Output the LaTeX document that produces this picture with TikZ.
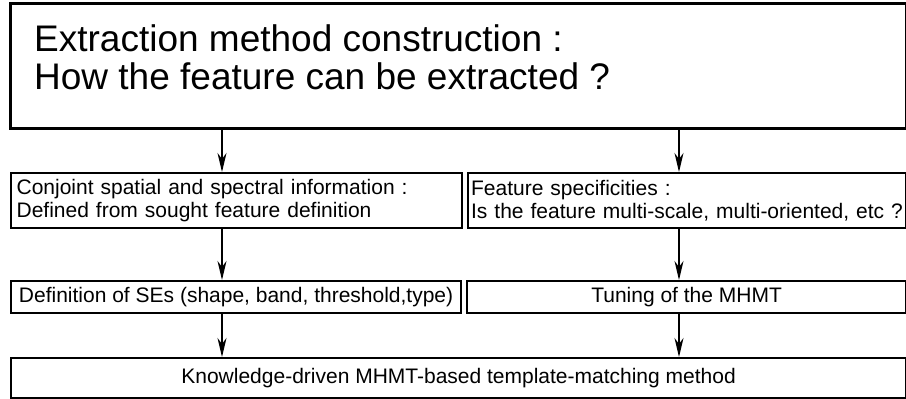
\documentclass[tikz,border=0pt]{standalone}
\usepackage{fontspec}
\setmainfont{Liberation Sans}
\usetikzlibrary{arrows.meta}

\tikzset{
  box/.style={draw,line width=2.2pt,inner xsep=4pt,inner ysep=2pt,anchor=north west},
  flow/.style={-{Stealth[length=19pt,width=9pt,inset=6pt]},line width=1.1pt},
  big/.style={font=\fontsize{37}{38}\selectfont},
  small/.style={font=\fontsize{21}{23}\selectfont}
}

\begin{document}
\begin{tikzpicture}[x=1pt,y=-1pt]
  \useasboundingbox (0,0) rectangle (906,399);
  % top box, its text set apart at the top
  \node[box,line width=2.6pt,minimum width=896pt,minimum height=125pt] (top) at (9,2) {};
  \node[big,anchor=north west,align=left,inner sep=0pt] (toptext) at (34,24)
        {Extraction method construction :\\How the feature can be extracted ?};
  % second row
  \node[box,small,minimum width=451pt,minimum height=55pt,align=left,text width=440pt] (conj) at (10,172)
        {Conjoint spatial and spectral information :\\Defined from sought feature definition};
  \node[box,small,minimum width=437pt,minimum height=55pt,align=left,text width=432pt,
        inner xsep=3pt] (spec) at (467,172)
        {Feature specificities :\\Is the feature multi-scale, multi-oriented, etc ?};
  % third row
  \node[box,small,minimum width=450pt,minimum height=32pt] (ses) at (10,280)
        {Definition of SEs (shape, band, threshold,type)};
  \node[box,small,minimum width=439pt,minimum height=32pt] (tune) at (466,280)
        {Tuning of the MHMT};
  % last box
  \node[box,small,minimum width=895pt,minimum height=40pt] (meth) at (10,357)
        {Knowledge-driven MHMT-based template-matching method};
  % arrows
  \coordinate (l) at (222,0);
  \coordinate (r) at (679,0);
  \draw[flow] (top.south -| l) -- (conj.north -| l);
  \draw[flow] (top.south -| r) -- (spec.north -| r);
  \draw[flow] (conj.south -| l) -- (ses.north -| l);
  \draw[flow] (spec.south -| r) -- (tune.north -| r);
  \draw[flow] (ses.south -| l) -- (meth.north -| l);
  \draw[flow] (tune.south -| r) -- (meth.north -| r);
\end{tikzpicture}
\end{document}
